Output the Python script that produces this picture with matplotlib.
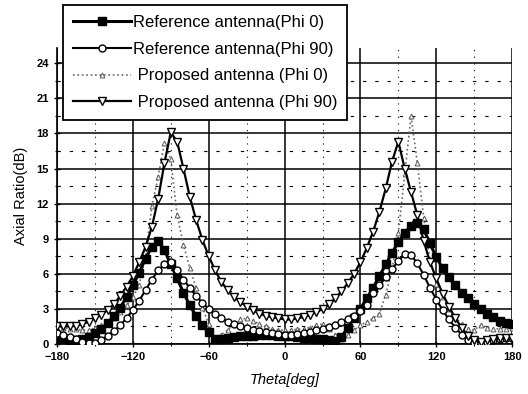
import numpy as np
import matplotlib.pyplot as plt

plt.rcParams['font.family'] = ['Liberation Sans', 'DejaVu Sans']

# theta samples (deg)
theta = list(range(-180, 181, 5))

# Reference antenna (Phi 0)
ref_phi0 = [0.5, 0.4, 0.3, 0.3, 0.4, 0.6, 0.9, 1.3, 1.8, 2.4,
            3.1, 4.0, 5.0, 6.1, 7.3, 8.3, 8.8, 8.0, 6.8, 5.6,
            4.4, 3.3, 2.4, 1.6, 1.0, 0.45, 0.4, 0.5, 0.6, 0.65,
            0.7, 0.72, 0.75, 0.75, 0.75, 0.72, 0.7, 0.65, 0.6, 0.55,
            0.5, 0.45, 0.4, 0.35, 0.25, 0.6, 1.4, 2.2, 3.0, 3.9,
            4.8, 5.8, 6.8, 7.8, 8.7, 9.5, 10.1, 10.3, 9.8, 8.6,
            7.4, 6.5, 5.7, 5.0, 4.4, 3.9, 3.4, 3.0, 2.6, 2.3,
            2.0, 1.8, 1.7]

# Reference antenna (Phi 90)
ref_phi90 = [0.9, 0.8, 0.6, 0.4, 0.2, 0.05, 0.05, 0.3, 0.7, 1.1,
             1.6, 2.2, 2.9, 3.7, 4.6, 5.5, 6.3, 6.8, 7.0, 6.3,
             5.5, 4.8, 4.1, 3.5, 3.0, 2.6, 2.2, 1.9, 1.7, 1.5,
             1.35, 1.2, 1.1, 1.0, 0.9, 0.85, 0.8, 0.8, 0.85, 0.9,
             1.0, 1.2, 1.3, 1.45, 1.6, 1.85, 2.1, 2.4, 2.8, 3.3,
             4.4, 5.0, 5.7, 6.4, 7.1, 7.7, 7.6, 6.9, 5.9, 4.8,
             3.8, 2.9, 2.1, 1.4, 0.8, 0.3, 0.1, 0.1, 0.2, 0.3,
             0.4, 0.5, 0.5]

# Proposed antenna (Phi 0)
prop_phi0 = [1.4, 1.35, 1.3, 1.25, 1.2, 1.2, 1.35, 1.6, 1.9, 2.2,
             2.7, 3.3, 4.0, 5.0, 7.5, 11.8, 14.3, 17.2, 15.8, 11.0,
             8.5, 6.5, 4.8, 3.1, 1.7, 0.4, 0.8, 1.2, 1.7, 2.1,
             2.2, 2.0, 1.7, 1.5, 1.3, 1.2, 1.2, 1.2, 1.25, 1.3,
             1.4, 1.6, 1.7, 1.3, 0.8, 0.4, 0.8, 1.2, 1.6, 1.9,
             2.2, 2.6, 4.2, 6.4, 9.5, 14.5, 19.5, 15.5, 10.8, 7.2,
             5.1, 4.0, 3.0, 2.3, 1.7, 1.3, 1.2, 1.6, 1.4, 1.3,
             1.3, 1.3, 1.4]

# Proposed antenna (Phi 90)
prop_phi90 = [1.5, 1.5, 1.5, 1.55, 1.7, 1.9, 2.2, 2.5, 2.9, 3.4,
              4.1, 4.9, 5.8, 7.0, 8.3, 10.0, 12.4, 15.5, 18.1, 17.3,
              15.0, 12.6, 10.6, 8.9, 7.5, 6.3, 5.3, 4.6, 4.0, 3.6,
              3.2, 2.9, 2.6, 2.4, 2.3, 2.2, 2.1, 2.1, 2.2, 2.3,
              2.5, 2.7, 3.0, 3.4, 3.9, 4.5, 5.2, 6.0, 7.0, 8.2,
              9.6, 11.3, 13.3, 15.6, 17.3, 15.0, 13.0, 11.0, 8.8, 7.0,
              5.6, 4.3, 3.2, 2.2, 1.4, 0.7, 0.3, 0.2, 0.3, 0.4,
              0.5, 0.5, 0.5]

fig = plt.figure(figsize=(5.28, 3.94), dpi=100)
ax = fig.add_axes([0.108, 0.127, 0.862, 0.751])

ax.plot(theta, ref_phi0, color='black', lw=2.2, marker='s', ms=5.5,
        mfc='black', mec='black', label='Reference antenna(Phi 0)', zorder=4)
ax.plot(theta, ref_phi90, color='black', lw=1.5, marker='o', ms=5,
        mfc='white', mec='black', mew=1.0, label='Reference antenna(Phi 90)', zorder=4)
ax.plot(theta, prop_phi0, color='0.4', lw=1.2, ls=':', marker='^', ms=3.5,
        mfc='white', mec='0.35', mew=0.7, label=' Proposed antenna (Phi 0)', zorder=3)
ax.plot(theta, prop_phi90, color='black', lw=1.6, marker='v', ms=5.5,
        mfc='white', mec='black', mew=1.0, label=' Proposed antenna (Phi 90)', zorder=5)

ax.set_xlim(-180, 180)
ax.set_ylim(0, 25.3)
ax.set_xticks(range(-180, 181, 60))
ax.set_xticks(range(-150, 180, 60), minor=True)
ax.set_yticks(range(0, 25, 3))
ax.set_yticks(np.arange(1.5, 24, 3), minor=True)

ax.grid(which='major', color='black', lw=1.1, ls='-')
ax.grid(which='minor', axis='x', color='black', lw=0.8, ls=(0, (1, 5)))
ax.grid(which='minor', axis='y', color='black', lw=0.8, ls=(0, (3, 8)))
ax.set_axisbelow(True)

for s in ['top', 'right']:
    ax.spines[s].set_visible(False)
ax.spines['left'].set_linewidth(1.2)
ax.spines['bottom'].set_linewidth(1.2)

ax.tick_params(which='major', direction='inout', length=5, width=1, labelsize=8)
ax.tick_params(which='minor', direction='inout', length=3, width=0.8)
for lab in ax.get_xticklabels() + ax.get_yticklabels():
    lab.set_fontweight('bold')

ax.set_xlabel('Theta[deg]', fontsize=10.5, fontstyle='italic', labelpad=8)
ax.set_ylabel('Axial Ratio(dB)', fontsize=10.5, labelpad=6)

leg = fig.legend(loc='upper left', bbox_to_anchor=(0.119, 0.987), fontsize=12,
                 handlelength=3.5, handletextpad=0.1, labelspacing=0.7,
                 borderpad=0.6, borderaxespad=0, fancybox=False,
                 framealpha=1, edgecolor='black')
leg.get_frame().set_linewidth(1.3)

fig.savefig('out.png', dpi=100)
